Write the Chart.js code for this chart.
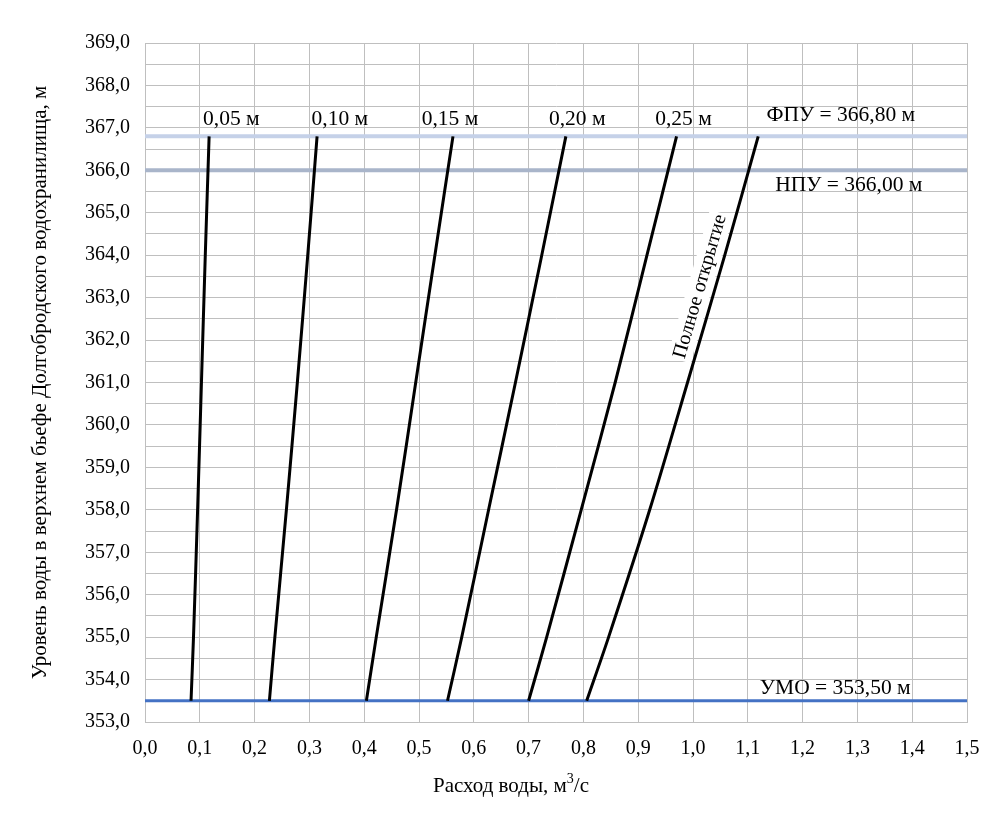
<!DOCTYPE html>
<html>
<head>
<meta charset="utf-8">
<script src="https://cdn.jsdelivr.net/npm/chart.js@4"></script>
<style>
  body { margin: 0; background: #fff; }
</style>
</head>
<body>
<canvas id="myChart" width="1004" height="827"></canvas>
<script>
// water levels (m) at which discharge was read
const levels = [353.5, 355, 358, 361, 364, 366.8];

// discharge, m3/s, for each gate opening
const q005 = [0.084, 0.0885, 0.096, 0.103, 0.110, 0.117];
const q010 = [0.227, 0.237, 0.258, 0.278, 0.297, 0.314];
const q015 = [0.404, 0.422, 0.459, 0.494, 0.529, 0.562];
const q020 = [0.552, 0.578, 0.627, 0.676, 0.724, 0.768];
const q025 = [0.700, 0.733, 0.796, 0.858, 0.916, 0.970];
const qFull = [0.806, 0.846, 0.921, 0.990, 1.058, 1.119];

// reference levels
const fpu = 366.8;
const npu = 366.0;
const umo = 353.5;
const xRange = [0, 1.5];

const font = '"Liberation Serif", "Times New Roman", serif';

function pts(xs) {
    return xs.map((q, i) => ({ x: q, y: levels[i] }));
}
function hline(level) {
    return xRange.map(q => ({ x: q, y: level }));
}
function comma(v, d) {
    return v.toFixed(d).replace('.', ',');
}

// text notes placed in data units
const notes = [
    { text: '0,05 м', x: 0.106, y: 367.2 },
    { text: '0,10 м', x: 0.304, y: 367.2 },
    { text: '0,15 м', x: 0.505, y: 367.2 },
    { text: '0,20 м', x: 0.737, y: 367.2 },
    { text: '0,25 м', x: 0.931, y: 367.2 },
    { text: 'ФПУ = ' + comma(fpu, 2) + ' м', x: 1.134, y: 367.3 },
    { text: 'НПУ = ' + comma(npu, 2) + ' м', x: 1.150, y: 365.65 },
    { text: 'УМО = ' + comma(umo, 2) + ' м', x: 1.122, y: 353.8 }
];
const fullNote = { text: 'Полное открытие', x: 1.013, y: 363.26, angle: -73.8 };

const labelPlugin = {
    id: 'labels',
    beforeDatasetsDraw(chart) {
        const { ctx, scales: { x, y } } = chart;
        ctx.save();
        ctx.font = '20px ' + font;
        const w = ctx.measureText(fullNote.text).width;
        ctx.translate(x.getPixelForValue(fullNote.x), y.getPixelForValue(fullNote.y));
        ctx.rotate(fullNote.angle * Math.PI / 180);
        ctx.fillStyle = '#fff';
        ctx.fillRect(-w / 2 - 2, -12, w + 4, 24);
        ctx.restore();
    },
    afterDatasetsDraw(chart) {
        const { ctx, scales: { x, y } } = chart;
        ctx.save();
        ctx.font = '21.5px ' + font;
        ctx.fillStyle = '#000';
        ctx.textBaseline = 'middle';
        ctx.textAlign = 'left';
        notes.forEach(n => ctx.fillText(n.text, x.getPixelForValue(n.x), y.getPixelForValue(n.y)));

        ctx.save();
        ctx.font = '20px ' + font;
        ctx.translate(x.getPixelForValue(fullNote.x), y.getPixelForValue(fullNote.y));
        ctx.rotate(fullNote.angle * Math.PI / 180);
        ctx.textAlign = 'center';
        ctx.fillText(fullNote.text, 0, 0);
        ctx.restore();

        // x axis title with superscript
        const a = 'Расход воды, м', b = '3', c = '/с';
        ctx.font = '21px ' + font;
        const wa = ctx.measureText(a).width, wc = ctx.measureText(c).width;
        ctx.font = '14px ' + font;
        const wb = ctx.measureText(b).width;
        let tx = 511 - (wa + wb + wc) / 2;
        const ty = 786;
        ctx.font = '21px ' + font;
        ctx.fillText(a, tx, ty);
        ctx.font = '14px ' + font;
        ctx.fillText(b, tx + wa, ty - 7);
        ctx.font = '21px ' + font;
        ctx.fillText(c, tx + wa + wb, ty);
        ctx.restore();
    }
};

const ctx = document.getElementById('myChart').getContext('2d');

const curve = (data) => ({
    data: pts(data),
    borderColor: '#000',
    borderWidth: 3,
    pointRadius: 0,
    showLine: true,
    tension: 0.3,
    order: 0
});
const level = (value, color, width) => ({
    data: hline(value),
    borderColor: color,
    borderWidth: width,
    pointRadius: 0,
    showLine: true,
    order: 1
});

new Chart(ctx, {
    type: 'scatter',
    data: {
        datasets: [
            curve(q005),
            curve(q010),
            curve(q015),
            curve(q020),
            curve(q025),
            curve(qFull),
            level(fpu, '#c5d1e8', 4),
            level(npu, '#a9b5ca', 4),
            level(umo, '#4472c4', 3)
        ]
    },
    options: {
        responsive: false,
        animation: false,
        layout: { padding: { top: 43, right: 37, left: 0, bottom: 0 } },
        plugins: {
            legend: { display: false },
            tooltip: { enabled: false }
        },
        scales: {
            x: {
                type: 'linear',
                min: xRange[0],
                max: xRange[1],
                grid: { color: '#bfbfbf', drawTicks: false },
                border: { color: '#bfbfbf' },
                ticks: {
                    stepSize: 0.1,
                    autoSkip: false,
                    maxRotation: 0,
                    padding: 15,
                    color: '#000',
                    font: { family: font, size: 20 },
                    callback: v => comma(v, 1)
                },
                afterFit: s => { s.height = 105; }
            },
            y: {
                min: 353,
                max: 369,
                grid: { color: '#bfbfbf', drawTicks: false },
                border: { color: '#bfbfbf' },
                ticks: {
                    stepSize: 0.5,
                    autoSkip: false,
                    padding: 15,
                    color: '#000',
                    font: { family: font, size: 20 },
                    callback: v => Math.abs(v - Math.round(v)) < 1e-6 ? comma(v, 1) : ''
                },
                title: {
                    display: true,
                    text: 'Уровень воды в верхнем бьефе Долгобродского водохранилища, м',
                    color: '#000',
                    font: { family: font, size: 21 },
                    padding: 28
                },
                afterFit: s => { s.width = 145; }
            }
        }
    },
    plugins: [labelPlugin]
});
</script>
</body>
</html>
